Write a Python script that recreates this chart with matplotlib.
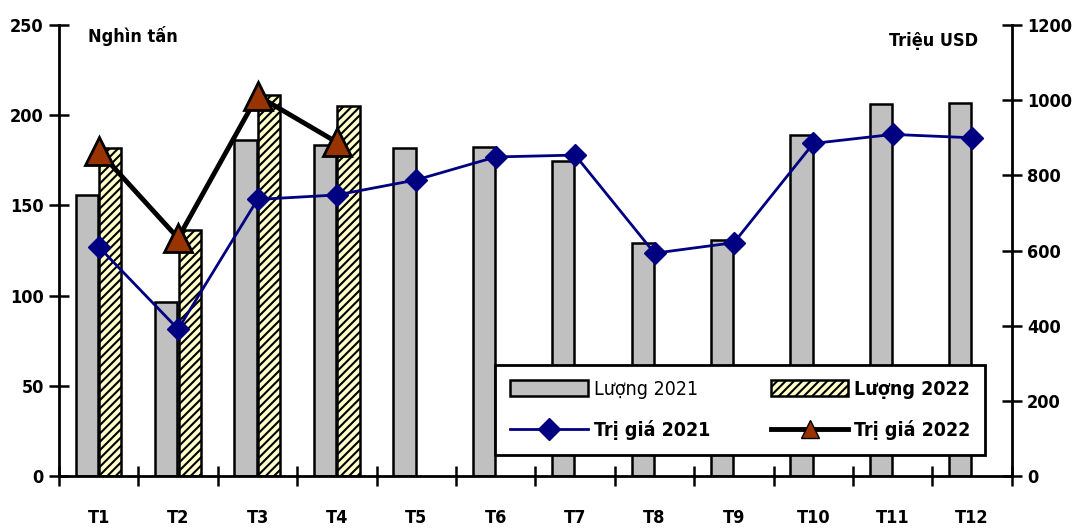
import numpy as np
import matplotlib
matplotlib.use('Agg')
import matplotlib.pyplot as plt
from matplotlib.patches import Patch
from matplotlib.lines import Line2D

plt.rcParams['font.family'] = ['DejaVu Sans']
plt.rcParams['font.stretch'] = 'condensed'
plt.rcParams['hatch.linewidth'] = 1.5

months = ['T1', 'T2', 'T3', 'T4', 'T5', 'T6', 'T7', 'T8', 'T9', 'T10', 'T11', 'T12']
luong_2021 = [156, 96.5, 186, 183.5, 182, 182.5, 174.5, 129, 131, 189, 206.5, 207]
luong_2022 = [182, 136.5, 211, 205]
trigia_2021 = [610, 391, 736, 748, 788, 849, 854, 593, 621, 885, 909, 900]
trigia_2022 = [865, 633, 1012, 888]

x = np.arange(len(months))
x22 = np.arange(len(luong_2022))

fig = plt.figure(figsize=(10.73, 5.32), dpi=100)
ax = fig.add_axes([0.055, 0.105, 0.888, 0.848])
ax2 = ax.twinx()

w = 0.28
ax.bar(x - 0.15, luong_2021, w, color='#c0c0c0', edgecolor='black', linewidth=1.8, zorder=2)
ax.bar(x22 + 0.145, luong_2022, w, color='#ffffcc', edgecolor='black', hatch='////',
       linewidth=1.8, zorder=2)

ax2.plot(x, trigia_2021, color='#000080', linewidth=2, marker='D', markersize=11,
         markerfacecolor='#000080', markeredgecolor='#000080', zorder=3)
ax2.plot(x22, trigia_2022, color='black', linewidth=3.5, marker='^', markersize=20,
         markerfacecolor='#993300', markeredgecolor='black', markeredgewidth=2, zorder=4)

ax.set_xlim(-0.5, len(months) - 0.5)
ax.set_ylim(0, 250)
ax2.set_ylim(0, 1200)
ax.set_yticks(np.arange(0, 251, 50))
ax2.set_yticks(np.arange(0, 1201, 200))
ax.set_xticks(x)
ax.set_xticklabels(months)
ax.set_xticks(np.arange(-0.5, len(months), 1), minor=True)

for a in (ax, ax2):
    a.spines['top'].set_visible(False)
    for s in a.spines.values():
        s.set_linewidth(2)
ax.spines['right'].set_visible(False)
ax2.spines['left'].set_visible(False)
ax2.spines['bottom'].set_visible(False)

fs = 13
ax.tick_params(axis='x', which='major', length=0, pad=24, labelsize=fs)
ax.tick_params(axis='x', which='minor', direction='inout', length=14, width=1.8)
ax.tick_params(axis='y', direction='inout', length=14, width=1.8, labelsize=fs, pad=4)
ax2.tick_params(axis='y', direction='inout', length=14, width=1.8, labelsize=fs, pad=4)
for lab in ax.get_xticklabels() + ax.get_yticklabels() + ax2.get_yticklabels():
    lab.set_fontweight('bold')

ax.text(0.03, 0.975, 'Nghìn tấn', transform=ax.transAxes, fontsize=fs,
        fontweight='bold', va='center', ha='left')
ax.text(0.965, 0.965, 'Triệu USD', transform=ax.transAxes, fontsize=fs,
        fontweight='bold', va='center', ha='right')

handles = [Patch(facecolor='#c0c0c0', edgecolor='black', linewidth=1.8),
           Line2D([], [], color='#000080', linewidth=2, marker='D', markersize=11),
           Patch(facecolor='#ffffcc', edgecolor='black', hatch='////', linewidth=1.8),
           Line2D([], [], color='black', linewidth=3.5, marker='^', markersize=13,
                  markerfacecolor='#993300', markeredgecolor='black')]
labels = ['Lượng 2021', 'Trị giá 2021', 'Lượng 2022', 'Trị giá 2022']
leg = ax2.legend(handles, labels, ncol=2, loc='lower left',
                 bbox_to_anchor=(0.458, 0.047, 0.514, 0.2), mode='expand',
                 borderaxespad=0, fancybox=False, framealpha=1, edgecolor='black',
                 prop={'size': 14, 'weight': 'bold'}, handlelength=4.0,
                 handleheight=0.9, columnspacing=3, labelspacing=1.1,
                 borderpad=0.75, handletextpad=0.3)
leg.get_frame().set_linewidth(2)
leg.set_zorder(10)
leg.get_texts()[0].set_fontweight('normal')

fig.savefig('out.png', dpi=100)
